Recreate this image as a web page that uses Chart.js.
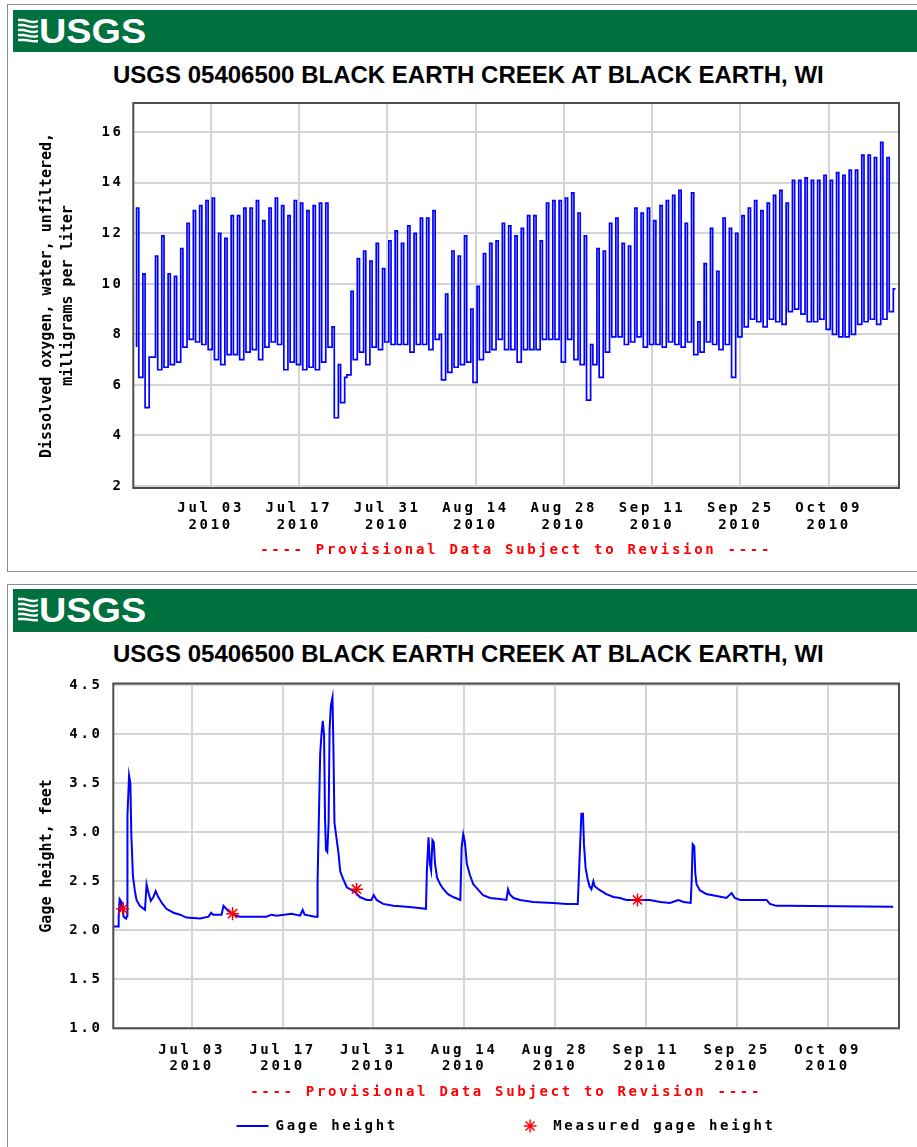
<!DOCTYPE html>
<html>
<head>
<meta charset="utf-8">
<title>USGS 05406500 Black Earth Creek at Black Earth, WI</title>
<script src="https://cdn.jsdelivr.net/npm/chart.js@4.4.1/dist/chart.umd.min.js"></script>
<style>
  body { margin: 0; background: #fff; width: 917px; height: 1147px; position: relative; overflow: hidden; }
  .panel { position: absolute; left: 7px; width: 940px; border: 1px solid #8c8c8c; }
  .bar { position: absolute; left: 13px; width: 904px; height: 42px; background: #00703f; }
  .bar svg { position: absolute; left: 5px; top: 8px; }
  .logo { position: absolute; left: 26px; top: 3px; font: bold 35px 'Liberation Sans', Arial, sans-serif; line-height: 35px; color: #fff; transform: scaleX(1.08); transform-origin: left; }
  .title { position: absolute; left: 113px; font: bold 24px 'Liberation Sans', Arial, sans-serif; line-height: 24px; color: #000; white-space: nowrap; }
  canvas { position: absolute; left: 0; }
</style>
</head>
<body>

<div class="panel" style="top:4px;height:566px"></div>
<div class="bar" style="top:10px">
  <svg width="20" height="25" viewBox="0 0 20 25"><g fill="none" stroke="#fff" stroke-width="2.4">
    <path d="M0 2 H5 C9 2 12 6 20 3"/><path d="M0 7 H5 C9 7 12 11 20 8"/><path d="M0 12 H5 C9 12 12 16 20 13"/>
    <path d="M0 17 H5 C10 17 12 20 20 18"/><path d="M0 22 H6 C11 22 14 24 20 23"/></g></svg>
  <span class="logo">USGS</span>
</div>
<div class="title" style="top:63px">USGS 05406500 BLACK EARTH CREEK AT BLACK EARTH, WI</div>
<canvas id="doChart" width="917" height="475" style="top:95px"></canvas>

<div class="panel" style="top:584px;height:620px"></div>
<div class="bar" style="top:589px;height:43px">
  <svg width="20" height="25" viewBox="0 0 20 25"><g fill="none" stroke="#fff" stroke-width="2.4">
    <path d="M0 2 H5 C9 2 12 6 20 3"/><path d="M0 7 H5 C9 7 12 11 20 8"/><path d="M0 12 H5 C9 12 12 16 20 13"/>
    <path d="M0 17 H5 C10 17 12 20 20 18"/><path d="M0 22 H6 C11 22 14 24 20 23"/></g></svg>
  <span class="logo">USGS</span>
</div>
<div class="title" style="top:642px">USGS 05406500 BLACK EARTH CREEK AT BLACK EARTH, WI</div>
<canvas id="gageChart" width="917" height="477" style="top:670px"></canvas>

<script>
// x values are days after 2010-06-21 00:00

// dissolved oxygen, mg/L: one low (early morning) and one high (afternoon) per day
const doMin = [
  7.5, 6.3, 5.1, 7.1, 6.6, 6.7, 6.8, 6.9, 7.5, 7.8,
  7.7, 7.6, 7.4, 7.0, 6.8, 7.2, 7.2, 7.0, 7.3, 7.4,
  7.0, 7.5, 7.7, 7.6, 6.6, 6.9, 6.8, 6.6, 6.7, 6.6,
  6.9, 7.5, 4.7, 5.3, 6.4, 7.0, 7.3, 6.8, 7.5, 7.4,
  7.7, 7.6, 7.6, 7.6, 7.3, 7.6, 7.6, 7.4, 7.8, 6.2,
  6.5, 6.7, 6.8, 6.9, 6.1, 7.0, 7.3, 7.4, 7.8, 7.4,
  7.4, 6.9, 7.4, 7.4, 7.4, 7.8, 7.8, 7.8, 6.9, 7.8,
  7.0, 6.8, 5.4, 6.8, 6.3, 7.3, 7.9, 7.9, 7.6, 7.7,
  7.9, 7.5, 7.6, 7.6, 7.5, 7.7, 7.6, 7.5, 7.7, 7.2,
  7.3, 7.7, 7.6, 7.4, 7.6, 6.3, 7.9, 8.3, 8.6, 8.5,
  8.3, 8.6, 8.5, 8.4, 8.9, 9.0, 8.8, 8.5, 8.5, 8.6,
  8.2, 8.0, 7.9, 7.9, 8.0, 8.4, 8.5, 8.6, 8.4, 8.6,
  8.9
];
const doMax = [
  13.0, 10.4, 7.1, 11.1, 11.9, 10.4, 10.3, 11.4, 12.4, 12.9,
  13.1, 13.3, 13.4, 12.0, 11.8, 12.7, 12.7, 13.0, 13.0, 13.3,
  12.5, 13.0, 13.4, 13.1, 12.7, 13.3, 13.2, 12.9, 13.1, 13.2,
  13.2, 8.3, 6.8, 6.3, 9.7, 11.0, 11.3, 10.9, 11.6, 10.6,
  11.7, 12.1, 11.6, 12.3, 12.0, 12.6, 12.6, 12.9, 8.0, 9.6,
  11.3, 11.1, 11.9, 9.0, 9.9, 11.2, 11.6, 11.7, 12.4, 12.3,
  11.9, 12.2, 12.7, 12.7, 11.7, 13.2, 13.3, 13.3, 13.4, 13.6,
  12.8, 11.9, 7.6, 11.4, 11.3, 12.4, 12.6, 11.6, 11.5, 13.0,
  12.8, 13.0, 12.5, 13.1, 13.3, 13.5, 13.7, 12.4, 13.6, 8.5,
  10.8, 12.2, 10.5, 12.6, 12.2, 12.0, 12.7, 13.0, 13.3, 12.9,
  13.2, 13.5, 13.7, 13.2, 14.1, 14.1, 14.2, 14.1, 14.1, 14.3,
  14.1, 14.4, 14.3, 14.5, 14.5, 15.1, 15.1, 15.0, 15.6, 15.0,
  9.8
];

// gage height, feet
const gageDay = [
  0, 0.7, 0.75, 0.9, 1.1, 1.2, 1.35, 1.5, 1.9, 2.05,
  2.1, 2.35, 2.55, 2.7, 2.95, 3.25, 3.5, 4.0, 4.8, 5.05,
  5.35, 5.7, 6.1, 6.45, 6.85, 7.4, 8.1, 9.2, 10.2, 11.2,
  13.3, 14.6, 15.0, 15.3, 16.6, 16.9, 17.6, 18.4, 19.4, 23.5,
  24.3, 25.1, 27.4, 28.7, 29.1, 29.4, 31.0, 31.35, 31.4, 31.5,
  31.8, 32.0, 32.2, 32.4, 32.55, 32.7, 32.9, 33.1, 33.25, 33.45,
  33.7, 33.85, 34.0, 34.3, 34.6, 34.9, 35.3, 35.9, 36.4, 37.2,
  37.9, 39.0, 39.7, 40.05, 40.5, 41.5, 43.1, 45.1, 46.7, 48.1,
  48.25, 48.5, 48.7, 48.9, 49.1, 49.3, 49.5, 49.8, 50.3, 50.8,
  51.5, 52.3, 53.4, 53.6, 53.85, 54.1, 54.4, 54.9, 55.4, 56.2,
  56.9, 58.0, 59.5, 60.5, 60.75, 61.0, 61.6, 62.6, 64.6, 67.7,
  69.8, 71.5, 71.7, 72.05, 72.3, 72.45, 72.7, 73.0, 73.3, 73.6,
  73.9, 74.1, 74.9, 75.9, 77.0, 78.0, 79.0, 81.6, 82.6, 84.2,
  85.7, 87.0, 87.8, 88.9, 89.05, 89.2, 89.45, 89.6, 89.8, 90.3,
  91.3, 92.9, 94.4, 95.2, 95.7, 96.5, 98.5, 100.6, 101.1, 102.1,
  103.6, 120.1
];
const gageFt = [
  2.04, 2.04, 2.14, 2.32, 2.30, 2.20, 2.29, 2.14, 2.12, 2.15,
  3.17, 3.58, 3.50, 2.97, 2.55, 2.40, 2.31, 2.25, 2.21, 2.47,
  2.38, 2.30, 2.34, 2.40, 2.34, 2.28, 2.22, 2.18, 2.16, 2.13,
  2.12, 2.14, 2.18, 2.16, 2.16, 2.25, 2.20, 2.16, 2.14, 2.14,
  2.16, 2.15, 2.17, 2.15, 2.21, 2.16, 2.14, 2.14, 2.49, 2.82,
  3.80, 4.00, 4.14, 3.99, 3.13, 2.82, 2.80, 3.10, 4.05, 4.30,
  4.38, 3.83, 3.10, 2.95, 2.80, 2.60, 2.53, 2.44, 2.42, 2.39,
  2.34, 2.31, 2.31, 2.36, 2.31, 2.27, 2.25, 2.24, 2.23, 2.22,
  2.62, 2.95, 2.68, 2.61, 2.92, 2.90, 2.68, 2.54, 2.47, 2.42,
  2.37, 2.34, 2.31, 2.85, 2.98, 2.90, 2.68, 2.56, 2.47, 2.41,
  2.36, 2.33, 2.32, 2.31, 2.42, 2.37, 2.33, 2.31, 2.29, 2.28,
  2.27, 2.27, 2.61, 3.19, 3.19, 2.88, 2.64, 2.53, 2.45, 2.42,
  2.50, 2.45, 2.41, 2.37, 2.34, 2.33, 2.31, 2.31, 2.31, 2.29,
  2.28, 2.31, 2.29, 2.28, 2.51, 2.88, 2.86, 2.59, 2.47, 2.41,
  2.37, 2.35, 2.33, 2.38, 2.33, 2.31, 2.31, 2.31, 2.27, 2.25,
  2.25, 2.24
];

// field measurements
const measDay = [1.37, 18.3, 37.4, 80.7];
const measFt = [2.22, 2.17, 2.42, 2.31];

const tickDay = [12, 26, 40, 54, 68, 82, 96, 110];
const tickDate = ['Jul 03', 'Jul 17', 'Jul 31', 'Aug 14', 'Aug 28', 'Sep 11', 'Sep 25', 'Oct 09'];
const tickYear = '2010';
const doTicks = [2, 4, 6, 8, 10, 12, 14, 16];
const gageTicks = [1.0, 1.5, 2.0, 2.5, 3.0, 3.5, 4.0, 4.5];

const BLUE = '#0000ff';
const RED = '#ff0000';
const GRID = '#d4d4d4';
const SPACING = '2.7px';

const mono = (size, lineHeight) => ({ family: "'DejaVu Sans Mono', monospace", weight: 'bold', size, lineHeight });

// wide bitmap-style labels: extra letter spacing everywhere except the y title
const spacedText = {
  id: 'spacedText',
  beforeLayout(chart) { chart.ctx.letterSpacing = SPACING; },
  beforeDraw(chart) {
    const ctx = chart.ctx;
    ctx.letterSpacing = SPACING;
    const y = chart.scales.y;
    if (!y.plainTitle) {
      const drawTitle = y.drawTitle;
      y.drawTitle = function () {
        ctx.letterSpacing = '0px';
        drawTitle.call(this);
        ctx.letterSpacing = SPACING;
      };
      y.plainTitle = true;
    }
  }
};

// dark frame round the plot area
const plotFrame = {
  id: 'plotFrame',
  afterDatasetsDraw(chart) {
    const { ctx, chartArea: a } = chart;
    ctx.save();
    ctx.strokeStyle = '#4d4d4d';
    ctx.lineWidth = 2;
    ctx.strokeRect(a.left, a.top, a.right - a.left, a.bottom - a.top);
    ctx.restore();
  }
};

// fixed axis boxes; no extra room for labels that overhang the plot
function fixSize(s, w, h) {
  if (w !== null) s.width = w;
  if (h !== null) s.height = h;
  s.paddingTop = s.paddingBottom = s.paddingLeft = s.paddingRight = 0;
}

function xAxis(min, max, height, tickPad, titlePad) {
  return {
    type: 'linear', min, max,
    afterBuildTicks: s => { s.ticks = tickDay.map(v => ({ value: v })); },
    afterFit: s => fixSize(s, null, height),
    grid: { color: GRID, lineWidth: 2, drawTicks: false },
    border: { display: false },
    ticks: {
      padding: tickPad, color: '#000', font: mono(14, 1.2), maxRotation: 0, autoSkip: false,
      callback: (v, i) => [tickDate[i], tickYear]
    },
    title: {
      display: true, text: '---- Provisional Data Subject to Revision ----', color: RED,
      font: mono(14, 1.2), padding: { top: 0, bottom: titlePad }
    }
  };
}

function yAxis(min, max, values, width, tickPad, text, digits) {
  return {
    type: 'linear', min, max,
    afterBuildTicks: s => { s.ticks = values.map(v => ({ value: v })); },
    afterFit: s => fixSize(s, width, null),
    grid: { color: GRID, lineWidth: 2, drawTicks: false },
    border: { display: false },
    ticks: { padding: tickPad, color: '#000', font: mono(14, 1.2), callback: v => v.toFixed(digits) },
    title: { display: true, text, color: '#000', font: mono(15, 1.4), padding: { top: 37, bottom: 0 } }
  };
}

// legend asterisk as a small bitmap so it keeps its own size
const starIcon = document.createElement('canvas');
starIcon.width = starIcon.height = 16;
{
  const c = starIcon.getContext('2d');
  c.strokeStyle = RED;
  c.lineWidth = 1.5;
  Chart.helpers.drawPoint(c, { pointStyle: 'star', radius: 6.4, borderWidth: 1.5 }, 8, 8);
}

const doPoints = [];
doMin.forEach((lo, d) => {
  doPoints.push({ x: d + 0.25, y: lo });
  doPoints.push({ x: d + 0.6, y: doMax[d] });
});

new Chart(document.getElementById('doChart'), {
  type: 'line',
  data: {
    datasets: [{
      label: 'Dissolved oxygen',
      data: doPoints,
      borderColor: BLUE, borderWidth: 1.7, pointRadius: 0, stepped: 'after'
    }]
  },
  options: {
    responsive: false, animation: false, devicePixelRatio: 1,
    layout: { padding: { top: 8, right: 18, bottom: 11.6, left: 0 } },
    scales: {
      x: xAxis(-0.27, 121.15, 70.4, 12.3, 0),
      y: yAxis(1.92, 17.16, doTicks, 133.3, 9.6,
        ['Dissolved oxygen, water, unfiltered,', 'milligrams per liter'], 0)
    },
    plugins: { legend: { display: false }, tooltip: { enabled: false } }
  },
  plugins: [spacedText, plotFrame]
});

new Chart(document.getElementById('gageChart'), {
  type: 'line',
  data: {
    datasets: [{
      label: 'Measured gage height',
      data: measDay.map((d, i) => ({ x: d, y: measFt[i] })),
      showLine: false, pointStyle: 'star', pointRadius: 6.5,
      borderColor: RED, backgroundColor: RED, pointBorderWidth: 1.5, order: 0
    }, {
      label: 'Gage height',
      data: gageDay.map((d, i) => ({ x: d, y: gageFt[i] })),
      borderColor: BLUE, borderWidth: 2, pointRadius: 0, tension: 0, order: 1
    }]
  },
  options: {
    responsive: false, animation: false, devicePixelRatio: 1,
    layout: { padding: { top: 13.5, right: 18, bottom: 4, left: 0 } },
    scales: {
      x: xAxis(-0.08, 121.0, 74.7, 13.3, 2.6),
      y: yAxis(1.0, 4.52, gageTicks, 113.3, 10.6, 'Gage height, feet', 1)
    },
    plugins: {
      tooltip: { enabled: false },
      legend: {
        position: 'bottom', fullSize: false,
        labels: {
          usePointStyle: true, pointStyleWidth: 32, boxHeight: 9, padding: 16,
          color: '#000', font: mono(14, 1.2),
          generateLabels: () => [
            { text: 'Gage height' + ' '.repeat(9), pointStyle: 'line', strokeStyle: BLUE, fillStyle: BLUE, lineWidth: 2 },
            { text: 'Measured gage height', pointStyle: starIcon, strokeStyle: RED, fillStyle: RED, lineWidth: 1.5 }
          ]
        }
      }
    }
  },
  plugins: [spacedText, plotFrame]
});
</script>
</body>
</html>
